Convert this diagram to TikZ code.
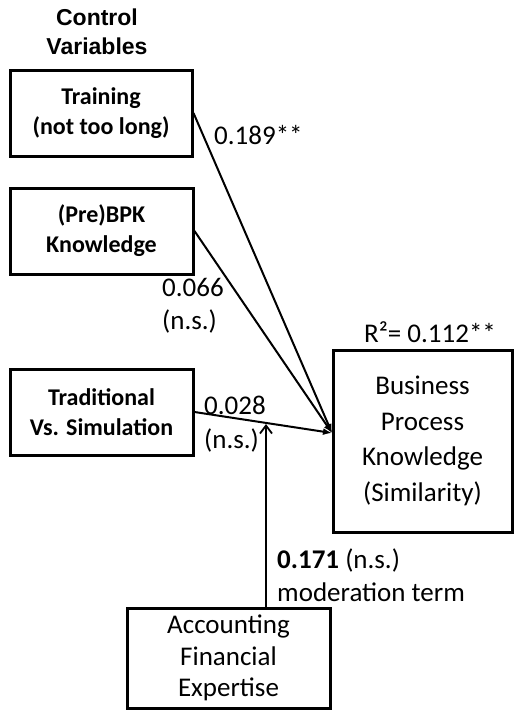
\documentclass[tikz,border=0pt]{standalone}
\usepackage{fontspec}
\setmainfont{Carlito}
\newfontfamily\headfont{Liberation Sans}
\usetikzlibrary{arrows.meta}
\begin{document}
\begin{tikzpicture}[x=1pt,y=-1pt,
  varbox/.style={draw,line width=3pt,align=center,inner sep=0pt},
  ctrltext/.style={font=\fontsize{24}{30}\selectfont\bfseries},
  maintext/.style={font=\fontsize{27}{35.5}\selectfont},
  modtext/.style={font=\fontsize{27}{31.5}\selectfont},
  coef/.style={font=\fontsize{27}{33.5}\selectfont,align=left,anchor=west,inner sep=0pt},
  path/.style={line width=2pt},
  inarrow/.style={path,-{Latex[length=9pt,width=7pt]}},
  modarrow/.style={path,-{Straight Barb[length=8pt,width=12pt,line width=1.8pt]}}]
  \useasboundingbox (0,0) rectangle (515,715);

  % heading
  \node[font=\headfont\fontsize{23}{29}\selectfont\bfseries,align=center] (head) at (97,32) {Control\\Variables};

  % control variable boxes
  \node[varbox,ctrltext,minimum width=182pt,minimum height=86pt] (train) at (101,113) {Training\\(not too long)};
  \node[varbox,ctrltext,minimum width=183pt,minimum height=86pt] (prebpk) at (101.5,231) {(Pre)BPK\\Knowledge};
  \node[varbox,ctrltext,minimum width=183pt,minimum height=86pt] (trad) at (101.5,412) {Traditional\\Vs. Simulation};

  % outcome and moderator boxes
  \node[varbox,maintext,minimum width=179pt,minimum height=182pt] (bpk) at (422.5,441) {Business\\Process\\Knowledge\\(Similarity)};
  \node[varbox,modtext,minimum width=203pt,minimum height=100pt] (acct) at (228.5,658) {Accounting\\Financial\\Expertise};

  % meeting point of the paths and the moderated point
  \coordinate (hub) at (332,433);
  \coordinate (mod) at (266,424);

  \draw[inarrow] (train.east) -- (hub);
  \draw[inarrow] (prebpk.east) -- (hub);
  \draw[inarrow] (trad.east) -- (hub);
  \draw[modarrow] (mod |- acct.north) -- (mod);

  % coefficients
  \node[coef] (c1) at (214,135) {0.189**};
  \node[coef] (c2) at (162,306) {0.066\\(n.s.)};
  \node[coef] (c3) at (204,424) {0.028\\(n.s.)};
  \node[coef] (r2) at (364,332) {R²= 0.112**};
  \node[coef] (c4) at (277,575) {\textbf{0.171} (n.s.)\\moderation term};
\end{tikzpicture}
\end{document}
